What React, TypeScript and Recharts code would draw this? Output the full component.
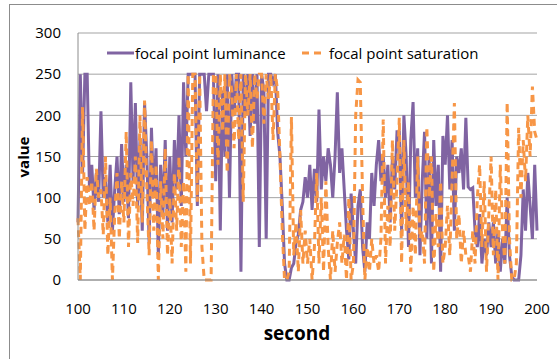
import { LineChart, Line, XAxis, YAxis, CartesianGrid } from 'recharts'

// sampled every half second from 100 s to 200 s
const START_SECOND = 100
const STEP = 0.5

const luminance = [
  70, 250, 130, 250, 250, 110, 140, 85, 130, 95,
  205, 100, 125, 70, 140, 60, 110, 150, 80, 165,
  95, 140, 75, 240, 120, 215, 90, 170, 60, 215,
  150, 45, 185, 100, 160, 30, 140, 80, 170, 60,
  150, 70, 170, 110, 200, 90, 240, 150, 250, 250,
  250, 250, 90, 250, 250, 250, 205, 250, 250, 250,
  120, 250, 60, 230, 150, 250, 100, 250, 200, 250,
  250, 10, 250, 200, 250, 175, 250, 190, 250, 40,
  250, 230, 50, 250, 250, 240, 250, 180, 150, 90,
  20, 0, 0, 15, 20, 45, 55, 85, 95, 125,
  100, 140, 85, 135, 95, 207, 110, 150, 120, 160,
  140, 100, 150, 228, 130, 160, 110, 60, 25, 105,
  60, 20, 90, 110, 40, 10, 70, 50, 130, 90,
  140, 170, 120, 150, 100, 140, 70, 150, 110, 180,
  180, 60, 200, 150, 40, 170, 216, 100, 160, 30,
  120, 180, 50, 150, 20, 170, 90, 140, 10, 175,
  140, 200, 110, 170, 60, 150, 130, 160, 110, 197,
  113, 110, 112, 60, 40, 80, 20, 50, 30, 70,
  40, 70, 20, 60, 10, 50, 20, 100, 30, 5,
  0, 0, 0, 30, 110, 60, 130, 90, 50, 140,
  60,
]

const saturation = [
  75, 0, 210, 60, 125, 90, 120, 60, 135, 100,
  110, 55, 150, 30, 100, 0, 80, 130, 50, 120,
  70, 180, 40, 130, 90, 150, 45, 200, 70, 218,
  110, 30, 170, 60, 140, 0, 120, 50, 160, 30,
  100, 20, 130, 60, 150, 40, 120, 10, 250, 20,
  250, 250, 95, 250, 40, 0, 0, 0, 0, 250,
  250, 140, 250, 180, 250, 130, 250, 230, 160, 250,
  170, 250, 95, 250, 200, 250, 160, 250, 220, 250,
  250, 190, 250, 220, 250, 170, 250, 230, 150, 60,
  0, 0, 10, 198, 30, 70, 10, 85, 20, 60,
  20, 50, 0, 40, 130, 20, 100, 10, 120, 40,
  0, 60, 10, 45, 70, 20, 55, 0, 100, 0,
  20, 200, 243, 240, 100, 0, 40, 10, 50, 20,
  30, 10, 50, 195, 20, 90, 40, 170, 60, 120,
  197, 20, 170, 60, 120, 10, 90, 30, 150, 50,
  60, 20, 186, 100, 150, 10, 80, 40, 120, 20,
  40, 90, 30, 120, 215, 50, 80, 20, 60, 30,
  30, 10, 60, 20, 100, 140, 40, 120, 10, 80,
  150, 30, 110, 0, 140, 60, 20, 216, 50, 0,
  0, 20, 185, 100, 170, 120, 200, 150, 235, 180,
  170,
]

const xTicks = [100, 110, 120, 130, 140, 150, 160, 170, 180, 190, 200]
const yTicks = [0, 50, 100, 150, 200, 250, 300]

const PURPLE = '#8064A2'
const ORANGE = '#F79646'
const FONT = '"Open Sans", sans-serif'

const data = luminance.map((v, i) => ({
  second: START_SECOND + i * STEP,
  luminance: v,
  saturation: saturation[i],
}))

function LegendOverlay() {
  const text = { fontFamily: FONT, fontSize: 15, color: '#000', whiteSpace: 'nowrap' as const }
  return (
    <>
      <svg style={{ position: 'absolute', left: 107, top: 50 }} width={27} height={6}>
        <line x1={0} y1={3} x2={27} y2={3} stroke={PURPLE} strokeWidth={3} />
      </svg>
      <div style={{ ...text, position: 'absolute', left: 135, top: 43 }}>focal point luminance</div>
      <svg style={{ position: 'absolute', left: 302, top: 50 }} width={22} height={6}>
        <line x1={0} y1={3} x2={22} y2={3} stroke={ORANGE} strokeWidth={3} strokeDasharray="7 5" />
      </svg>
      <div style={{ ...text, position: 'absolute', left: 329, top: 43 }}>focal point saturation</div>
    </>
  )
}

export default function App() {
  return (
    <div style={{ position: 'absolute', left: 0, top: 0, width: 557, height: 359, background: '#fff', overflow: 'hidden' }}>
      <div style={{ position: 'absolute', left: 9, top: 4, width: 600, height: 400, border: '1px solid #8c8c8c' }} />
      <LineChart
        width={557}
        height={359}
        data={data}
        margin={{ top: 33, right: 20, bottom: 0, left: 20 }}
        style={{ position: 'absolute', left: 0, top: 0 }}
      >
        <CartesianGrid vertical={false} stroke="#a3a3a3" />
        <XAxis
          dataKey="second"
          type="number"
          domain={[100, 200]}
          ticks={xTicks}
          height={79}
          tickSize={0}
          tickMargin={23}
          axisLine={{ stroke: '#8c8c8c' }}
          tick={{ fontFamily: FONT, fontSize: 15, fill: '#000' }}
        />
        <YAxis
          domain={[0, 300]}
          ticks={yTicks}
          width={58}
          tickSize={0}
          tickMargin={17}
          axisLine={{ stroke: '#8c8c8c' }}
          tick={{ fontFamily: FONT, fontSize: 15, fill: '#000' }}
        />
        <Line
          type="linear"
          dataKey="luminance"
          stroke={PURPLE}
          strokeWidth={3}
          dot={false}
          isAnimationActive={false}
        />
        <Line
          type="linear"
          dataKey="saturation"
          stroke={ORANGE}
          strokeWidth={3}
          strokeDasharray="7 5"
          dot={false}
          isAnimationActive={false}
        />
      </LineChart>
      <LegendOverlay />
      <div
        style={{
          position: 'absolute',
          left: 23,
          top: 157,
          transform: 'translate(-50%, -50%) rotate(-90deg)',
          fontFamily: FONT,
          fontWeight: 'bold',
          fontSize: 15,
          color: '#000',
        }}
      >
        value
      </div>
      <div
        style={{
          position: 'absolute',
          left: 297,
          top: 333,
          transform: 'translate(-50%, -50%)',
          fontFamily: FONT,
          fontWeight: 'bold',
          fontSize: 19,
          color: '#000',
        }}
      >
        second
      </div>
    </div>
  )
}
